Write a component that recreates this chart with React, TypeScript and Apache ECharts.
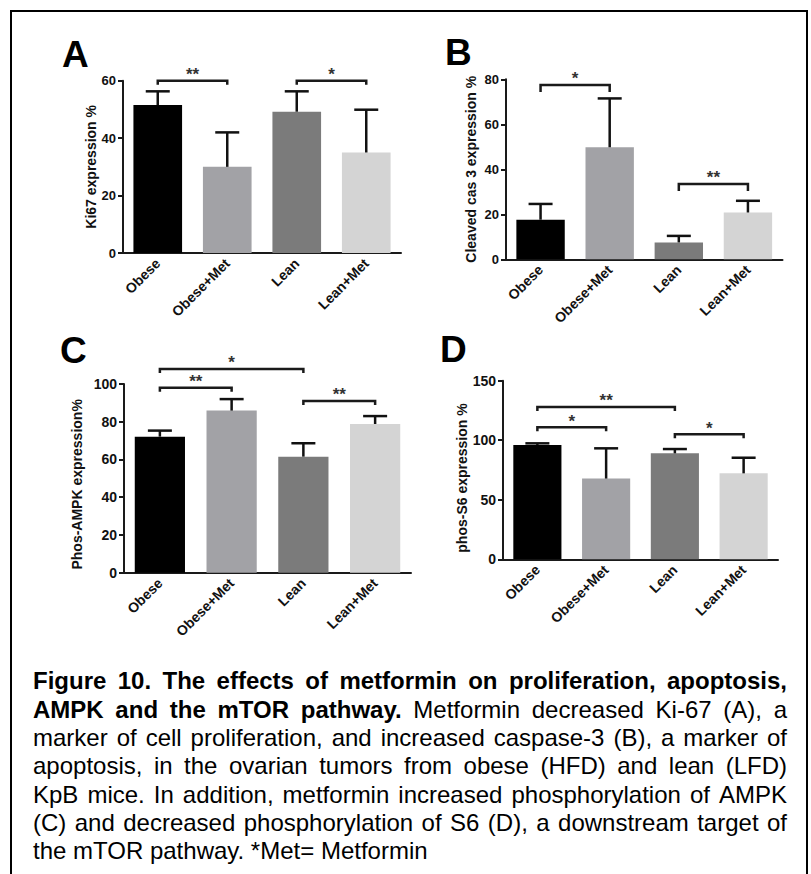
import React, { useEffect, useRef } from 'react';
import * as echarts from 'echarts';

const categories = ['Obese', 'Obese+Met', 'Lean', 'Lean+Met'];
const barColors = ['#000000', '#a2a2a6', '#7b7b7b', '#d4d4d4'];

// Panel A: Ki67
const ki67Mean = [51.5, 30.0, 49.2, 35.0];
const ki67Sd = [4.8, 12.0, 7.1, 14.9];
const ki67Brackets: [number, number, number, string][] = [
  [0, 1, 60, '**'],
  [2, 3, 60, '*'],
];
// Panel B: cleaved caspase 3
const cas3Mean = [17.6, 49.8, 7.5, 20.8];
const cas3Sd = [7.0, 21.7, 2.9, 5.2];
const cas3Brackets: [number, number, number, string][] = [
  [0, 1, 77.5, '*'],
  [2, 3, 33.5, '**'],
];
// Panel C: phos-AMPK
const ampkMean = [72.1, 85.9, 61.5, 78.8];
const ampkSd = [3.2, 6.1, 7.1, 4.2];
const ampkBrackets: [number, number, number, string][] = [
  [0, 2, 108, '*'],
  [0, 1, 98, '**'],
  [2, 3, 91, '**'],
];
// Panel D: phos-S6
const s6Mean = [96.0, 67.8, 89.0, 72.2];
const s6Sd = [1.4, 25.4, 3.6, 13.1];
const s6Brackets: [number, number, number, string][] = [
  [0, 2, 128, '**'],
  [0, 1, 111, '*'],
  [2, 3, 105, '*'],
];

const captionLines: [string, string][] = [
  ['Figure 10. The effects of metformin on proliferation, apoptosis,', ''],
  ['AMPK and the mTOR pathway.', 'Metformin decreased Ki-67 (A), a'],
  ['', 'marker of cell proliferation, and increased caspase-3 (B), a marker of'],
  ['', 'apoptosis, in the ovarian tumors from obese (HFD) and lean (LFD)'],
  ['', 'KpB mice. In addition, metformin increased phosphorylation of AMPK'],
  ['', '(C) and decreased phosphorylation of S6 (D), a downstream target of'],
  ['', 'the mTOR pathway. *Met= Metformin'],
];

const FONT = 'Liberation Sans';

const panels = [
  { letter: 'A', lx: 62, ly: 54, grid: { left: 123, top: 80.7, width: 278, height: 172.3 }, max: 60, interval: 20,
    name: 'Ki67 expression %', nameGap: 24, namePad: 0, tickFont: 13, mean: ki67Mean, sd: ki67Sd, brackets: ki67Brackets, tick: 4 },
  { letter: 'B', lx: 445, ly: 52, grid: { left: 506, top: 79.3, width: 276.5, height: 180 }, max: 80, interval: 20,
    name: 'Cleaved cas 3 expression %', nameGap: 28, namePad: 0, tickFont: 13, mean: cas3Mean, sd: cas3Sd, brackets: cas3Brackets, tick: 7 },
  { letter: 'C', lx: 60, ly: 350, grid: { left: 124, top: 384, width: 287, height: 188.7 }, max: 100, interval: 20,
    name: 'Phos-AMPK expression%', nameGap: 40, namePad: 12, tickFont: 14, mean: ampkMean, sd: ampkSd, brackets: ampkBrackets, tick: 4 },
  { letter: 'D', lx: 440, ly: 349, grid: { left: 503, top: 380.7, width: 275, height: 178.6 }, max: 150, interval: 50,
    name: 'phos-S6 expression %', nameGap: 33, namePad: 16, tickFont: 14, mean: s6Mean, sd: s6Sd, brackets: s6Brackets, tick: 4 },
];

function buildCaption(): any[] {
  const canvas = document.createElement('canvas');
  const ctx = canvas.getContext('2d')!;
  const size = 24;
  const left = 33;
  const right = 787;
  const firstCenter = 680.8;
  const lineStep = 28.3;
  const els: any[] = [];
  captionLines.forEach(([boldPart, regPart], li) => {
    const words: { t: string; b: boolean; w: number }[] = [];
    boldPart.split(' ').filter(Boolean).forEach((t) => words.push({ t, b: true, w: 0 }));
    regPart.split(' ').filter(Boolean).forEach((t) => words.push({ t, b: false, w: 0 }));
    ctx.font = `normal ${size}px "${FONT}"`;
    const spaceW = ctx.measureText(' ').width;
    words.forEach((w) => {
      ctx.font = `${w.b ? 'bold' : 'normal'} ${size}px "${FONT}"`;
      w.w = ctx.measureText(w.t).width;
    });
    const total = words.reduce((s, w) => s + w.w, 0);
    const gaps = words.length - 1;
    const isLast = li === captionLines.length - 1;
    const gap = isLast || gaps === 0 ? spaceW : (right - left - total) / gaps;
    let x = left;
    const y = firstCenter + li * lineStep;
    words.forEach((w) => {
      els.push({
        type: 'text',
        x,
        y,
        style: {
          text: w.t,
          fontSize: size,
          fontWeight: w.b ? 'bold' : 'normal',
          fontFamily: FONT,
          fill: '#000',
          align: 'left',
          verticalAlign: 'middle',
        },
      });
      x += w.w + gap;
    });
  });
  return els;
}

export default function App() {
  const ref = useRef<HTMLDivElement>(null);
  useEffect(() => {
    if (!ref.current) return;
    const chart = echarts.init(ref.current, undefined, { renderer: 'svg' });
    const axisColor = '#1a1a1a';
    const grids: any[] = [];
    const xAxes: any[] = [];
    const yAxes: any[] = [];
    const series: any[] = [];
    const graphics: any[] = [];

    panels.forEach((p, i) => {
      grids.push({ ...p.grid, containLabel: false });
      xAxes.push({
        type: 'category',
        gridIndex: i,
        data: categories,
        axisLine: { lineStyle: { color: axisColor, width: 2 } },
        axisTick: { alignWithLabel: true, length: 5, lineStyle: { color: axisColor, width: 2 } },
        axisLabel: { rotate: 45, fontSize: 14, fontWeight: 'bold', color: '#111', fontFamily: FONT, margin: 8 },
      });
      yAxes.push({
        type: 'value',
        gridIndex: i,
        min: 0,
        max: p.max,
        interval: p.interval,
        name: p.name,
        nameLocation: 'middle',
        nameGap: p.nameGap,
        nameTextStyle: {
          fontSize: 14,
          fontWeight: 'bold',
          color: '#111',
          fontFamily: FONT,
          padding: [0, p.namePad, 0, 0],
        },
        axisLine: { show: true, lineStyle: { color: axisColor, width: 2 } },
        axisTick: { show: true, length: 5, lineStyle: { color: axisColor, width: 2 } },
        axisLabel: { fontSize: p.tickFont, fontWeight: 'bold', color: '#111', fontFamily: FONT, margin: 7 },
        splitLine: { show: false },
      });
      series.push({
        type: 'bar',
        xAxisIndex: i,
        yAxisIndex: i,
        barWidth: '70%',
        data: p.mean.map((v, k) => ({ value: v, itemStyle: { color: barColors[k] } })),
        z: 2,
      });
      series.push({
        type: 'custom',
        xAxisIndex: i,
        yAxisIndex: i,
        clip: false,
        z: 3,
        data: p.mean.map((v, k) => [k, v, v + p.sd[k]]),
        renderItem: (params: any, api: any) => {
          const k = api.value(0);
          const p0 = api.coord([k, api.value(1)]);
          const p1 = api.coord([k, api.value(2)]);
          const cap = 12;
          const st = { stroke: '#111', lineWidth: 2.5 };
          return {
            type: 'group',
            children: [
              { type: 'line', shape: { x1: p0[0], y1: p0[1], x2: p1[0], y2: p1[1] }, style: st },
              { type: 'line', shape: { x1: p1[0] - cap, y1: p1[1], x2: p1[0] + cap, y2: p1[1] }, style: st },
            ],
          };
        },
      });
      series.push({
        type: 'custom',
        xAxisIndex: i,
        yAxisIndex: i,
        clip: false,
        z: 4,
        data: p.brackets.map((b) => [b[0], b[1], b[2]]),
        renderItem: (params: any, api: any) => {
          const b = p.brackets[params.dataIndex];
          const a = api.coord([api.value(0), api.value(2)]);
          const c = api.coord([api.value(1), api.value(2)]);
          const t = p.tick;
          return {
            type: 'group',
            children: [
              {
                type: 'polyline',
                shape: { points: [[a[0], a[1] + t], [a[0], a[1]], [c[0], c[1]], [c[0], c[1] + t]] },
                style: { stroke: '#1a1a1a', lineWidth: 2.5, fill: null },
              },
              {
                type: 'text',
                x: (a[0] + c[0]) / 2,
                y: a[1] - 6,
                style: {
                  text: b[3],
                  fontSize: 17,
                  fontWeight: 'bold',
                  fontFamily: FONT,
                  fill: '#333',
                  align: 'center',
                  verticalAlign: 'middle',
                },
              },
            ],
          };
        },
      });
      graphics.push({
        type: 'text',
        x: p.lx,
        y: p.ly,
        style: {
          text: p.letter,
          fontSize: 37,
          fontWeight: 'bold',
          fontFamily: FONT,
          fill: '#000',
          align: 'left',
          verticalAlign: 'middle',
        },
      });
    });

    graphics.push({
      type: 'rect',
      shape: { x: 11, y: 11, width: 796, height: 900 },
      style: { fill: 'none', stroke: '#000', lineWidth: 2 },
      silent: true,
    });
    buildCaption().forEach((e) => graphics.push(e));

    chart.setOption({
      animation: false,
      backgroundColor: '#fff',
      textStyle: { fontFamily: FONT },
      grid: grids,
      xAxis: xAxes,
      yAxis: yAxes,
      series,
      graphic: graphics,
    });
    return () => chart.dispose();
  }, []);
  return (
    <div
      ref={ref}
      style={{ position: 'fixed', left: 0, top: 0, width: 811, height: 874, background: '#fff' }}
    />
  );
}
